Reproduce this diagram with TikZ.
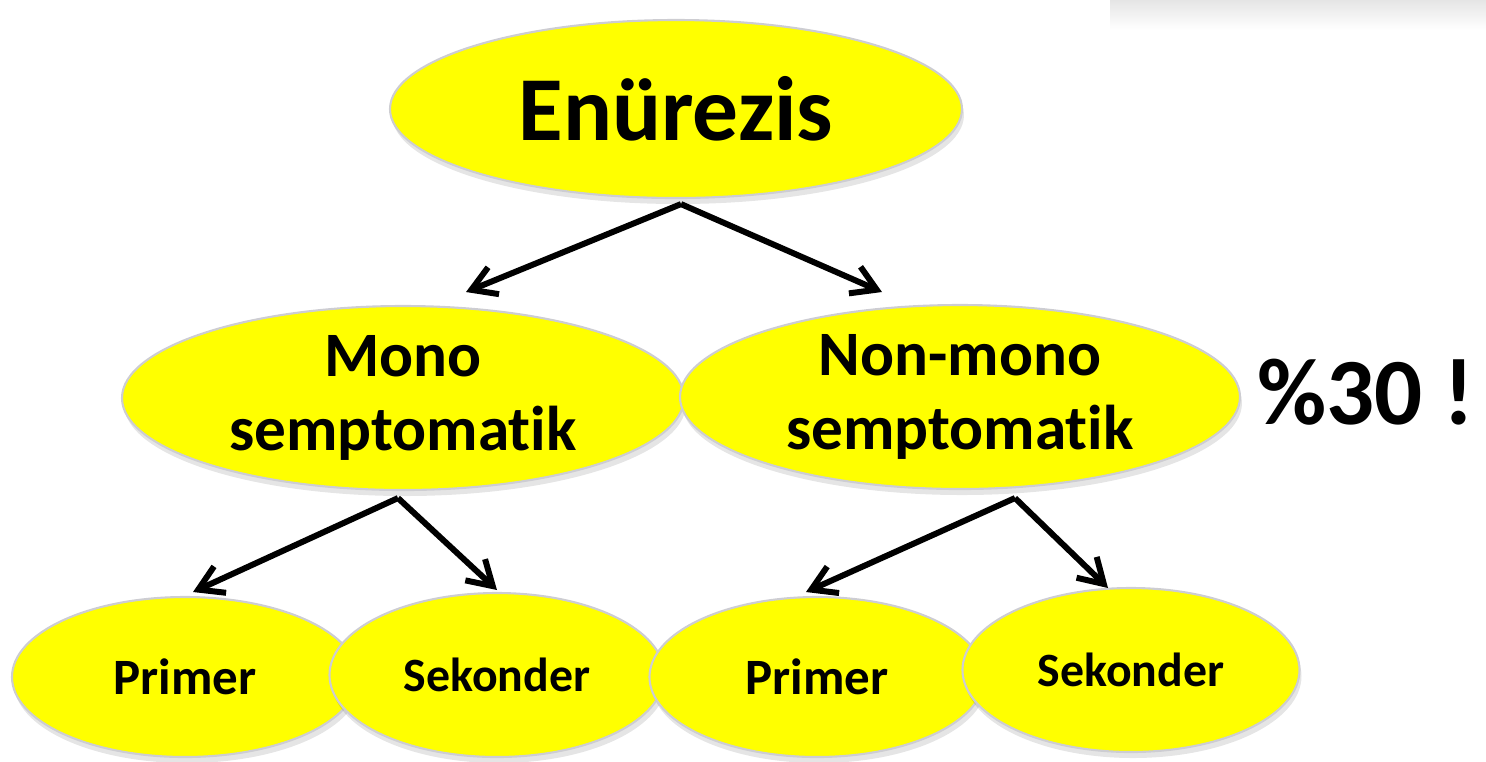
\documentclass[tikz,border=0pt]{standalone}
\usepackage{fontspec}
\setmainfont{Carlito}[Ligatures=NoCommon]
\usetikzlibrary{shapes.geometric,arrows.meta,shadows}
\definecolor{fillyel}{RGB}{255,255,0}
\definecolor{edgegray}{RGB}{205,205,210}
\tikzset{
  ell/.style={ellipse, fill=fillyel, draw=edgegray, line width=0.6pt, inner sep=0pt,
    align=center, font=\bfseries,
    drop shadow={shadow xshift=0.2mm, shadow yshift=-0.6mm, fill=black, opacity=0.10}},
  big/.style={font=\fontsize{26}{31}\selectfont\bfseries},
  mid/.style={font=\fontsize{18}{21}\selectfont\bfseries},
  sml/.style={font=\fontsize{14.5}{17}\selectfont\bfseries},
  smlb/.style={font=\fontsize{13.6}{16}\selectfont\bfseries},
  arr/.style={line width=1.7pt, line cap=butt,
    -{Straight Barb[length=2.4mm,width=2.9mm,line width=1.7pt]}},
}
\begin{document}
\begin{tikzpicture}
\useasboundingbox (0,0) rectangle (14.86,-7.61);
% faint bar at the top right
\shade[top color=gray!20, bottom color=white] (11.1,0) rectangle (14.86,-0.30);

\node[ell, big, minimum width=5.72cm, minimum height=1.78cm] (enu) at (6.76,-1.09) {Enürezis};
\node[ell, mid, minimum width=5.62cm, minimum height=1.84cm] (mono) at (4.03,-3.98) {Mono\\semptomatik};
\node[ell, mid, minimum width=5.60cm, minimum height=1.84cm] (nonmono) at (9.60,-3.97) {Non-mono\\semptomatik};

\node[ell, sml, minimum width=3.46cm, minimum height=1.60cm] (p1) at (1.85,-6.77) {Primer};
\node[ell, smlb, minimum width=3.35cm, minimum height=1.64cm] (s1) at (4.97,-6.75) {Sekonder};
\node[ell, sml, minimum width=3.35cm, minimum height=1.60cm] (p2) at (8.17,-6.77) {Primer};
\node[ell, smlb, minimum width=3.37cm, minimum height=1.64cm] (s2) at (11.31,-6.70) {Sekonder};

\node[font=\fontsize{27}{32}\selectfont\bfseries] (pct) at (13.66,-3.92) {\%30 !};

% arrow start points below the parents
\coordinate (e0) at ([xshift=0.05cm,yshift=-0.05cm]enu.south);
\coordinate (m0) at ([xshift=-0.05cm,yshift=-0.07cm]mono.south);
\coordinate (n0) at ([xshift=0.55cm,yshift=-0.08cm]nonmono.south);
% arrow tips above the children
\coordinate (tmono) at (4.66,-2.92);
\coordinate (tnon) at (8.82,-2.92);
\coordinate (tp1) at (1.93,-5.92);
\coordinate (ts1) at (4.97,-5.90);
\coordinate (tp2) at (8.06,-5.92);
\coordinate (ts2) at (11.08,-5.88);

\draw[arr] (e0) -- (tmono);
\draw[arr] (e0) -- (tnon);
\draw[arr] (m0) -- (tp1);
\draw[arr] (m0) -- (ts1);
\draw[arr] (n0) -- (tp2);
\draw[arr] (n0) -- (ts2);
\end{tikzpicture}
\end{document}
